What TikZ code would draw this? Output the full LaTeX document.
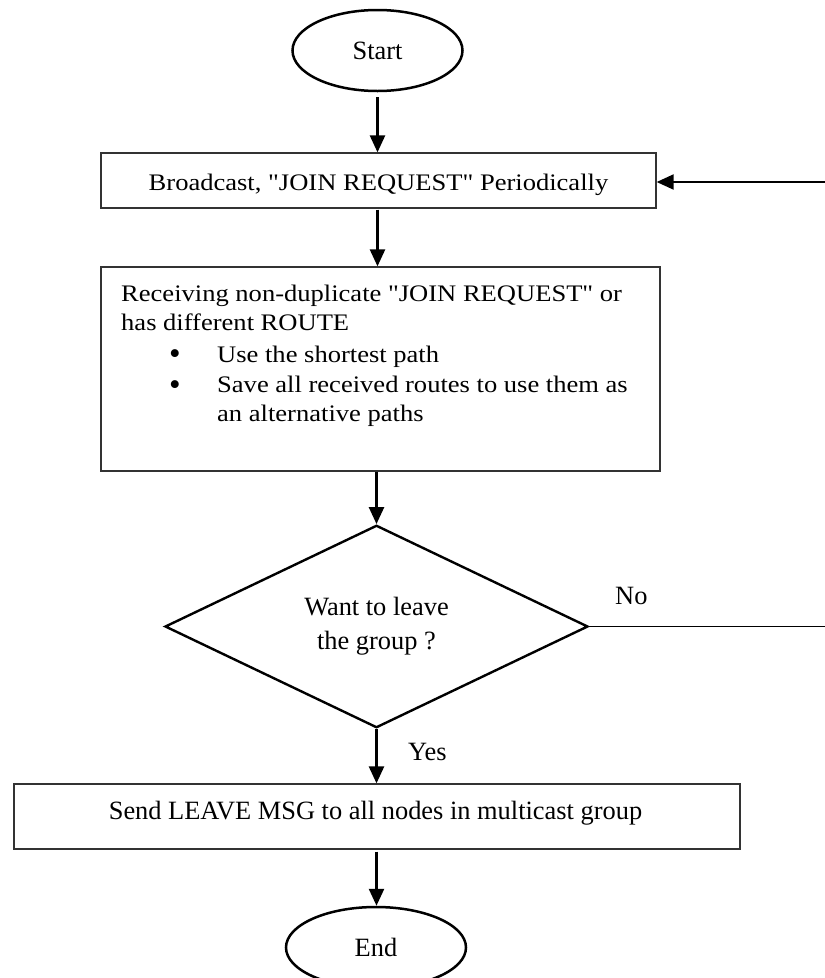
\documentclass[tikz,border=0pt]{standalone}
\usepackage{fontspec}
\setmainfont{Liberation Serif}
\newfontfamily\boxfont[FakeStretch=1.12]{Liberation Serif}
\usetikzlibrary{shapes.geometric,arrows.meta}
\begin{document}
\begin{tikzpicture}[x=1pt,y=1pt,
  term/.style={draw, line width=2.5pt, ellipse, inner sep=0pt, minimum width=170pt, minimum height=81pt, font=\fontsize{26.4}{30}\selectfont},
  procbox/.style={draw=black!80, line width=1.3pt, rectangle, inner sep=0pt},
  decision/.style={draw, line width=2.4pt, diamond, inner sep=0pt, minimum width=423pt, minimum height=193pt, align=center, font=\fontsize{26.4}{34}\selectfont},
  flow/.style={line width=2.5pt, -{Triangle[length=17pt,width=15pt]}},
  btext/.style={anchor=base west, inner sep=0pt, font=\boxfont\fontsize{23.7}{29}\selectfont},
  bul/.style={anchor=base, inner sep=0pt, font=\fontsize{33}{33}\selectfont},
  lbl/.style={anchor=base west, inner sep=0pt, font=\fontsize{26.4}{30}\selectfont}
]
\useasboundingbox (0,0) rectangle (825,-978);

% nodes
\node[term] (start) at (377.5,-50.5) {Start};
\node[procbox, minimum width=555pt, minimum height=55pt, text height=19pt, text depth=0pt,
      font=\boxfont\fontsize{23.7}{29}\selectfont] (box1) at (378.5,-180.5) {Broadcast, "JOIN REQUEST" Periodically};

\node[procbox, minimum width=559pt, minimum height=204pt] (box2) at (380.5,-369) {};
\node[btext] (t1) at (121,-301.7) {Receiving non-duplicate "JOIN REQUEST" or};
\node[btext] (t2) at (121,-330.4) {has different ROUTE};
\node[bul] (b1) at (175,-364.3) {\textbullet};
\node[btext] (t3) at (217,-362.1) {Use the shortest path};
\node[bul] (b2) at (175,-395.0) {\textbullet};
\node[btext] (t4) at (217,-392.8) {Save all received routes to use them as};
\node[btext] (t5) at (217,-421.1) {an alternative paths};

\node[decision] (dia) at (376.5,-626.5) {Want to leave\\the group ?};

\node[procbox, minimum width=726pt, minimum height=65pt] (box3) at (377,-816.5) {};
\node[lbl, anchor=base] (t6) at (375.5,-819) {Send LEAVE MSG to all nodes in multicast group};

\node[term, minimum width=180pt] (end) at (376,-947.5) {End};

\node[lbl] (yes) at (408,-760) {Yes};
\node[lbl] (no) at (615,-604) {No};

\coordinate (noend) at (825,-626.5);
\coordinate (loopin) at (825,-182);

% connectors
\draw[flow, shorten <=5pt] (start.south) -- (box1.north -| start.south);
\draw[flow, shorten <=1pt] (box1.south -| start.south) -- (box2.north -| start.south);
\draw[flow] (box2.south -| dia.north) -- (dia.north);
\draw[flow] (dia.south) -- (box3.north -| dia.south);
\draw[flow, shorten <=2pt] (box3.south -| dia.south) -- (end.north -| dia.south);
\draw[line width=1.4pt] (dia.east) -- (noend);
\draw[flow, line width=2.1pt] (loopin) -- (box1.east |- loopin);
\end{tikzpicture}
\end{document}
